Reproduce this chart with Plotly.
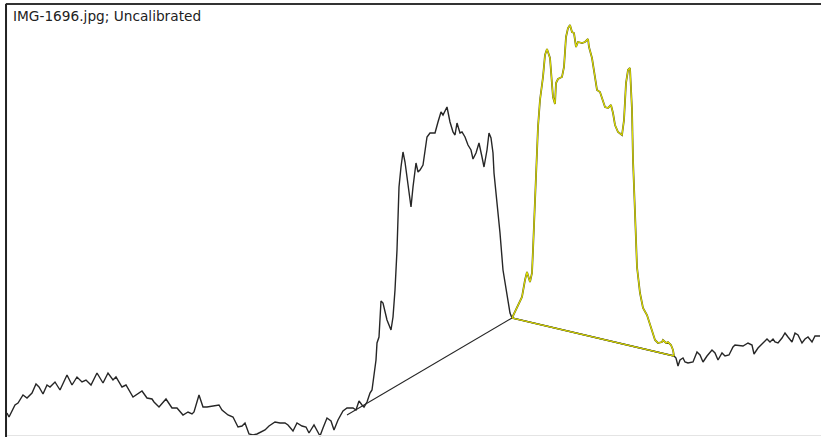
import plotly.graph_objects as go

# Lane profile (position along lane, intensity)
pos = [7, 9, 15, 18, 23, 27, 32, 36, 39, 43, 47, 50, 55, 60, 67, 72, 77, 82, 86, 91,
       97, 103, 108, 113, 116, 122, 126, 133, 142, 147, 152, 154, 159, 166, 172, 177, 183, 188, 192, 194,
       199, 203, 207, 213, 219, 222, 228, 233, 238, 242, 245, 249, 253, 257, 262, 265, 269, 275, 280, 285,
       288, 293, 297, 302, 306, 309, 314, 317, 320, 323, 327, 331, 334, 338, 343, 347, 353, 356, 359, 362,
       364, 367, 370, 372, 374, 376, 377, 379, 381, 383, 387, 391, 393, 395, 397, 398, 399, 401, 403, 405,
       407, 409, 411, 413, 416, 418, 420, 423, 425, 427, 430, 435, 438, 441, 443, 445, 447, 450, 453, 455,
       457, 460, 462, 465, 468, 471, 473, 476, 479, 482, 484, 487, 489, 491, 493, 494, 497, 500, 503, 507,
       510, 512]
val = [24, 20, 32, 34, 42, 39, 44, 53, 50, 43, 52, 50, 55, 47, 62, 52, 60, 55, 57, 52,
       64, 54, 64, 57, 60, 50, 52, 40, 46, 39, 38, 35, 30, 38, 29, 29, 22, 25, 23, 25,
       42, 30, 30, 31, 32, 27, 22, 20, 10, 11, 14, 3, 2, 3, 5, 7, 11, 15, 14, 14,
       12, 6, 14, 11, 10, 4, 12, 7, 1, 9, 19, 16, 7, 17, 26, 29, 29, 27, 36, 32,
       30, 35, 44, 47, 60, 77, 94, 100, 136, 134, 117, 107, 120, 147, 187, 230, 250, 270, 285, 275,
       260, 240, 230, 250, 274, 265, 267, 272, 285, 300, 304, 304, 315, 325, 322, 326, 330, 315, 305, 302,
       314, 304, 305, 300, 292, 287, 278, 284, 294, 280, 270, 287, 304, 299, 284, 264, 237, 204, 167, 140,
       124, 119]

# Selected band (second peak)
pos_sel = [512, 517, 522, 525, 527, 530, 532, 533, 535, 537, 538, 540, 543, 545, 547, 550, 552, 553, 555, 556,
           558, 562, 564, 566, 568, 570, 572, 574, 576, 578, 582, 585, 588, 589, 592, 595, 597, 600, 603, 605,
           608, 611, 613, 615, 618, 622, 624, 626, 628, 630, 632, 633, 635, 637, 640, 643, 647, 650, 653, 655,
           658, 662, 663, 666, 668, 671, 673, 674]
val_sel = [119, 130, 140, 157, 165, 155, 164, 187, 237, 277, 310, 337, 360, 382, 388, 379, 354, 340, 333, 354,
           358, 360, 370, 400, 409, 412, 405, 404, 390, 395, 394, 395, 398, 390, 379, 357, 347, 345, 337, 330,
           329, 332, 324, 312, 305, 302, 317, 354, 367, 369, 327, 277, 224, 170, 144, 129, 122, 112, 104, 97,
           94, 95, 97, 94, 95, 92, 87, 81]

# Tail of the profile
pos_tail = [674, 676, 678, 680, 683, 685, 688, 693, 697, 700, 703, 707, 712, 715, 718, 722, 725, 729, 733, 735,
            740, 743, 748, 752, 754, 758, 763, 767, 770, 773, 775, 778, 782, 785, 788, 792, 795, 798, 802, 805,
            808, 812, 815, 820]
val_tail = [81, 79, 71, 77, 79, 75, 74, 75, 85, 82, 75, 81, 87, 84, 77, 84, 81, 82, 90, 92,
            91, 91, 94, 92, 83, 89, 94, 98, 95, 98, 95, 94, 99, 104, 100, 95, 104, 102, 94, 98,
            100, 95, 101, 101]

# Baselines drawn under the peaks
base1_pos = [347, 512]
base1_val = [22, 119]
base2_pos = [512, 674]
base2_val = [119, 81]

BLACK = "#262626"
YELLOW = "#dede00"

fig = go.Figure()
fig.add_trace(go.Scatter(x=pos + pos_tail, y=val + val_tail,
                         mode="lines", line=dict(color=BLACK, width=1.4), hoverinfo="skip",
                         connectgaps=False))
fig.add_trace(go.Scatter(x=base1_pos, y=base1_val, mode="lines",
                         line=dict(color=BLACK, width=1.1), hoverinfo="skip"))
# dark fringe under the selected band
fig.add_trace(go.Scatter(x=pos_sel, y=val_sel, mode="lines",
                         line=dict(color="#5a5a20", width=1.8), hoverinfo="skip"))
fig.add_trace(go.Scatter(x=base2_pos, y=base2_val, mode="lines",
                         line=dict(color="#5a5a20", width=1.7), hoverinfo="skip"))
fig.add_trace(go.Scatter(x=pos_sel, y=val_sel, mode="lines",
                         line=dict(color=YELLOW, width=1.1), hoverinfo="skip"))
fig.add_trace(go.Scatter(x=base2_pos, y=base2_val, mode="lines",
                         line=dict(color=YELLOW, width=1.1), hoverinfo="skip"))

fig.update_layout(
    width=821, height=437,
    margin=dict(l=7, r=0, t=4, b=0),
    paper_bgcolor="white", plot_bgcolor="white",
    showlegend=False,
    xaxis=dict(range=[7, 821], visible=False, fixedrange=True),
    yaxis=dict(range=[0, 433], visible=False, fixedrange=True),
    shapes=[
        dict(type="line", xref="paper", yref="paper", x0=-0.0015, x1=1, y0=1.0, y1=1.0,
             line=dict(color="#333333", width=2)),
        dict(type="line", xref="paper", yref="paper", x0=-0.0012, x1=-0.0012, y0=0, y1=1.0,
             line=dict(color="#222222", width=2)),
        dict(type="line", xref="paper", yref="paper", x0=0, x1=1, y0=0.0035, y1=0.0035,
             line=dict(color="#e4e4e4", width=1)),
    ],
    annotations=[
        dict(text="IMG-1696.jpg; Uncalibrated", xref="paper", yref="paper",
             x=(11 - 7) / 814, y=(437 - 16) / 433, xanchor="left", yanchor="middle",
             showarrow=False, font=dict(family="DejaVu Sans", size=13.7, color="#222222")),
    ],
)

fig.write_html("out.html")
